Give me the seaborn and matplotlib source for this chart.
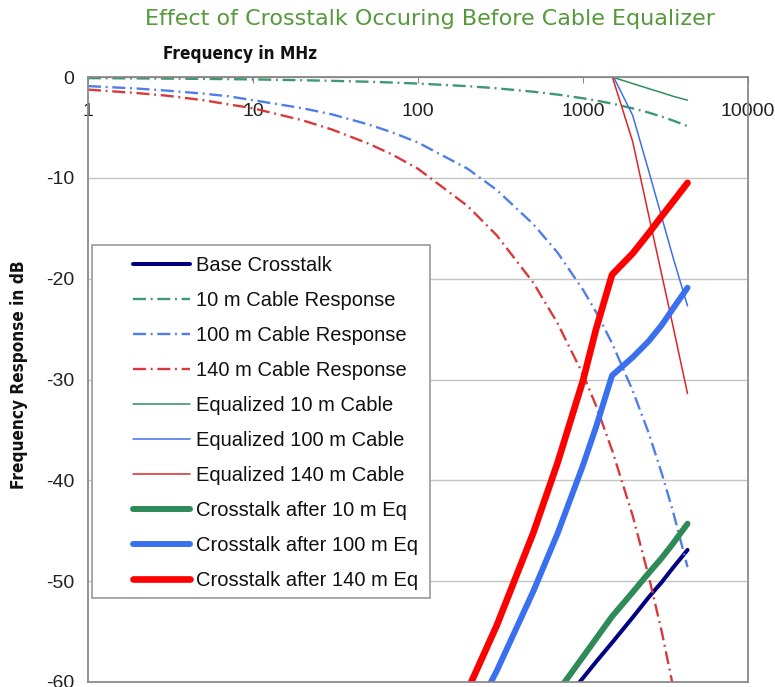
import matplotlib
matplotlib.use("Agg")
import matplotlib.pyplot as plt
import seaborn as sns
from matplotlib.patches import Rectangle
from matplotlib.font_manager import FontProperties

# ---------------- data ----------------
freq_mhz = [1, 2, 3, 5, 7, 10, 20, 30, 50, 70, 100, 200, 300, 500, 700,
            1000, 1200, 1500, 2000, 2500, 3000, 3500, 4300]

base_crosstalk = [-119.6, -113.6, -110.1, -105.6, -102.7, -99.6, -93.6, -90.1, -85.6, -82.7,
                  -79.6, -73.6, -70.1, -65.6, -62.7, -59.6, -58.0, -56.1, -53.6, -51.6,
                  -50.1, -48.7, -46.9]
cable_10m = [-0.11, -0.14, -0.16, -0.19, -0.21, -0.24, -0.32, -0.38, -0.47, -0.55, -0.65,
             -0.91, -1.12, -1.46, -1.74, -2.11, -2.33, -2.64, -3.11, -3.53, -3.93, -4.31, -4.87]
cable_100m = [-0.9, -1.15, -1.35, -1.65, -1.9, -2.3, -3.1, -3.7, -4.7, -5.5, -6.5, -9.1,
              -11.2, -14.6, -17.4, -21.1, -23.3, -26.4, -31.1, -35.3, -39.3, -43.0, -48.6]
cable_140m = [-1.25, -1.6, -1.85, -2.3, -2.7, -3.1, -4.3, -5.2, -6.6, -7.7, -9.1, -12.8,
              -15.7, -20.4, -24.4, -29.5, -32.6, -37.0, -43.5, -49.5, -55.0, -60.3, -68.2]
eq_10m = [0, 0, 0, 0, 0, 0, 0, 0, 0, 0, 0, 0, 0, 0, 0, 0, 0, 0.0,
          -0.65, -1.15, -1.55, -1.9, -2.3]
eq_100m = [0, 0, 0, 0, 0, 0, 0, 0, 0, 0, 0, 0, 0, 0, 0, 0, 0.6, 0.3,
           -3.8, -9.3, -13.9, -17.8, -22.7]
eq_140m = [0, 0, 0, 0, 0, 0, 0, 0, 0, 0, 0, 0, 0, 0, 0, 0, 0.6, 0.1,
           -6.4, -13.7, -19.6, -24.6, -31.4]
xtalk_10m_eq = [-119.5, -113.5, -109.9, -105.4, -102.5, -99.4, -93.3, -89.7, -85.1, -82.2,
                -79.0, -72.7, -69.0, -64.1, -61.0, -57.5, -55.7, -53.5, -51.1, -49.2,
                -47.7, -46.3, -44.3]
xtalk_100m_eq = [-118.7, -112.45, -108.75, -103.95, -100.8, -97.3, -90.5, -86.4, -80.9, -77.2,
                 -73.1, -64.5, -58.9, -51.0, -45.3, -38.5, -34.7, -29.6, -27.8, -26.2,
                 -24.6, -23.0, -20.9]
xtalk_140m_eq = [-118.4, -112.0, -108.3, -103.3, -100.0, -96.5, -89.3, -84.9, -79.0, -75.0,
                 -70.5, -60.8, -54.4, -45.2, -38.3, -30.1, -25.0, -19.6, -17.5, -15.5,
                 -13.8, -12.4, -10.5]

series_labels = ["Base Crosstalk", "10 m Cable Response", "100 m Cable Response",
                 "140 m Cable Response", "Equalized 10 m Cable", "Equalized 100 m Cable",
                 "Equalized 140 m Cable", "Crosstalk after 10 m Eq",
                 "Crosstalk after 100 m Eq", "Crosstalk after 140 m Eq"]
series_values = [base_crosstalk, cable_10m, cable_100m, cable_140m, eq_10m, eq_100m,
                 eq_140m, xtalk_10m_eq, xtalk_100m_eq, xtalk_140m_eq]

y_ticks = [0, -10, -20, -30, -40, -50, -60]
x_ticks = [1, 10, 100, 1000, 10000]

# ---------------- styles ----------------
dashdot = (0, (5.5, 2.0, 0.8, 2.0))
styles = [
    dict(color="#000080", lw=2.9, ls="-"),
    dict(color="#3d9a6e", lw=1.7, ls=dashdot),
    dict(color="#4f7fe6", lw=1.7, ls=dashdot),
    dict(color="#d83a3a", lw=1.7, ls=dashdot),
    dict(color="#2f8f5f", lw=1.1, ls="-"),
    dict(color="#3f6fe8", lw=1.1, ls="-"),
    dict(color="#e02424", lw=1.1, ls="-"),
    dict(color="#2e8b57", lw=4.3, ls="-"),
    dict(color="#3a6ff0", lw=4.3, ls="-"),
    dict(color="#ff0000", lw=4.8, ls="-"),
]

sns.set_style("white")
plt.rcParams["font.family"] = ["Liberation Sans", "DejaVu Sans"]
plt.rcParams["axes.unicode_minus"] = False

fig = plt.figure(figsize=(7.75, 6.87), dpi=100)
ax = fig.add_axes([88 / 775, 1 - 682 / 687, 660 / 775, 605 / 687])
ax.set_xscale("log")

for lab, vals, st in zip(series_labels, series_values, styles):
    sns.lineplot(x=freq_mhz, y=vals, ax=ax, color=st["color"], linewidth=st["lw"],
                 linestyle=st["ls"], label=lab, errorbar=None, sort=True,
                 solid_capstyle="round", dash_capstyle="butt", solid_joinstyle="round")

ax.set_xlim(1, 10000)
ax.set_ylim(-60, 0)
ax.set_yticks(y_ticks)
ax.set_yticklabels([str(v) for v in y_ticks])
ax.set_xticks(x_ticks)
ax.set_xticklabels([str(v) for v in x_ticks])
ax.xaxis.set_minor_locator(matplotlib.ticker.NullLocator())

ax.yaxis.grid(True, color="#c4c4c4", lw=1.0)
ax.xaxis.grid(False)
for sp in ax.spines.values():
    sp.set_color("#8a8a8a")
    sp.set_linewidth(1.3)
    sp.set_visible(True)

ax.tick_params(axis="y", direction="out", length=4, color="#8a8a8a", pad=6,
               labelsize=14, labelcolor="#222222")
ax.tick_params(axis="x", top=True, bottom=False, labeltop=True, labelbottom=False,
               direction="in", length=4, color="#8a8a8a", pad=-31,
               labelsize=14, labelcolor="#222222")

cond = FontProperties(family=["Liberation Sans Narrow", "DejaVu Sans"], weight="bold",
                      stretch="condensed", size=12.3)
ax.set_xlabel("Frequency in MHz", fontproperties=cond, color="#111111")
ax.xaxis.set_label_position("top")
ax.xaxis.label.set_va("center")
ax.xaxis.set_label_coords((240 - 88) / 660, 1 + (77 - 54) / 605)
ax.set_ylabel("Frequency Response in dB", fontproperties=cond, color="#111111")
ax.yaxis.label.set_va("center")
ax.yaxis.set_label_coords((19 - 88) / 660, (682 - 375) / 605)

# legend box
rect = Rectangle((4 / 660, (682 - 598) / 605), 338 / 660, 353 / 605, transform=ax.transAxes,
                 facecolor="white", edgecolor="#9a9a9a", lw=1.2, zorder=5)
ax.add_patch(rect)
handles, labels = ax.get_legend_handles_labels()
leg = ax.legend(handles, labels, loc="upper left",
                bbox_to_anchor=((133 - 88) / 660, (682 - 256) / 605),
                frameon=False, borderpad=0, borderaxespad=0, handlelength=2.84,
                handletextpad=0.3, labelspacing=0.795,
                prop=FontProperties(family=["Liberation Sans", "DejaVu Sans"], size=14.5))
leg.set_zorder(6)
for t in leg.get_texts():
    t.set_color("#111111")

fig.text(430 / 775, 1 - 19 / 687, "Effect of Crosstalk Occuring Before Cable Equalizer",
         ha="center", va="center", color="#559a3a", fontsize=16, family="DejaVu Sans")

fig.savefig("out.png", dpi=100, facecolor="white")
